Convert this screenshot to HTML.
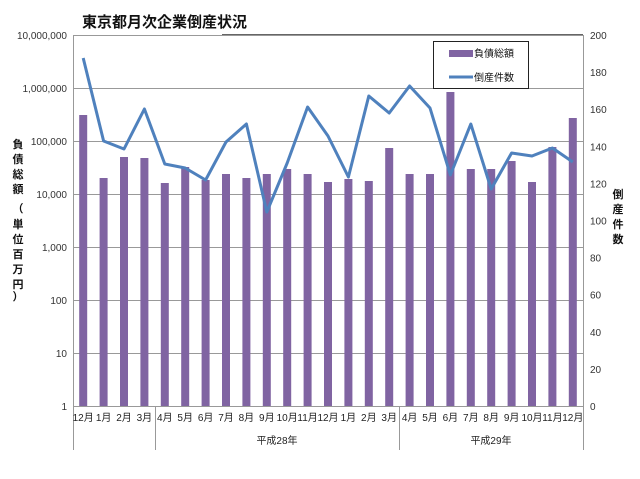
<!DOCTYPE html>
<html><head><meta charset="utf-8"><style>
body{margin:0;background:#fff;}
svg text{font-family:"Liberation Sans","Noto Sans CJK JP",sans-serif;}
</style></head><body>
<svg width="640" height="474" viewBox="0 0 640 474" xmlns="http://www.w3.org/2000/svg">
<rect width="640" height="474" fill="#fff"/>
<g stroke="#999" stroke-width="1">
<line x1="73" y1="35.5" x2="583" y2="35.5"/>
<line x1="73" y1="88.5" x2="583" y2="88.5"/>
<line x1="73" y1="141.5" x2="583" y2="141.5"/>
<line x1="73" y1="194.5" x2="583" y2="194.5"/>
<line x1="73" y1="247.5" x2="583" y2="247.5"/>
<line x1="73" y1="300.5" x2="583" y2="300.5"/>
<line x1="73" y1="353.5" x2="583" y2="353.5"/>
<line x1="73" y1="406.5" x2="583" y2="406.5"/>
<line x1="73.5" y1="35" x2="73.5" y2="450"/>
<line x1="583.5" y1="35" x2="583.5" y2="450"/>
<line x1="155.5" y1="406" x2="155.5" y2="450"/>
<line x1="399.5" y1="406" x2="399.5" y2="450"/>
</g>
<g fill="#8064a2" id="bars"></g>
<polyline id="ln" fill="none" stroke="#4f81bd" stroke-width="3" stroke-linejoin="round"/>
<g font-size="10" fill="#333" text-anchor="end">
<text x="67" y="39">10,000,000</text><text x="67" y="92">1,000,000</text><text x="67" y="145">100,000</text>
<text x="67" y="198">10,000</text><text x="67" y="251">1,000</text><text x="67" y="304">100</text>
<text x="67" y="357">10</text><text x="67" y="410">1</text>
</g>
<g font-size="10" fill="#333" id="rl"></g>
<g font-size="10" fill="#222" id="xl" text-anchor="middle"></g>
<text x="277" y="444" font-size="10" text-anchor="middle" fill="#222">平成28年</text>
<text x="491" y="444" font-size="10" text-anchor="middle" fill="#222">平成29年</text>
<text x="82" y="27" font-size="15" font-weight="bold" fill="#111">東京都月次企業倒産状況</text>
<line x1="222" y1="34.5" x2="583" y2="34.5" stroke="#666"/>
<g font-size="11" font-weight="bold" fill="#111" text-anchor="middle">
<text x="18" y="148">負</text><text x="18" y="163">債</text><text x="18" y="178">総</text><text x="18" y="193">額</text>
<text x="18" y="212">（</text><text x="18" y="228">単</text><text x="18" y="243">位</text><text x="18" y="258">百</text><text x="18" y="273">万</text><text x="18" y="288">円</text><text x="18" y="300">）</text>
<text x="618" y="198">倒</text><text x="618" y="213">産</text><text x="618" y="228">件</text><text x="618" y="243">数</text>
</g>
<rect x="433.5" y="41.5" width="95" height="47" fill="#fff" stroke="#222"/>
<rect x="449" y="50" width="24" height="7" fill="#8064a2"/>
<line x1="449" y1="77" x2="473" y2="77" stroke="#4f81bd" stroke-width="3"/>
<text x="474" y="57" font-size="10" fill="#111">負債総額</text>
<text x="474" y="81" font-size="10" fill="#111">倒産件数</text>
<script>
var bt=[115,178,157,158,183,167,180,174,178,174,169,174,182,179,181,148,174,174,92,169,169,161,182,147,118];
var ly=[58,141,149,109,164,168,180,142,124,212,163,107,136,177,96,113,86,108,175,124,189,153,156,148,162];
var lab=["12月","1月","2月","3月","4月","5月","6月","7月","8月","9月","10月","11月","12月","1月","2月","3月","4月","5月","6月","7月","8月","9月","10月","11月","12月"];
var w=20.4,ns="http://www.w3.org/2000/svg",b=document.getElementById("bars"),xl=document.getElementById("xl"),pts=[];
for(var i=0;i<25;i++){var c=73+w*(i+0.5);
var r=document.createElementNS(ns,"rect");r.setAttribute("x",c-4);r.setAttribute("y",bt[i]);r.setAttribute("width",8);r.setAttribute("height",406-bt[i]);b.appendChild(r);
pts.push(c+","+ly[i]);
var t=document.createElementNS(ns,"text");t.setAttribute("x",c);t.setAttribute("y",421);t.textContent=lab[i];xl.appendChild(t);}
document.getElementById("ln").setAttribute("points",pts.join(" "));
var rl=document.getElementById("rl");
for(var k=0;k<=10;k++){var t=document.createElementNS(ns,"text");t.setAttribute("x",590);t.setAttribute("y",406-k*37.1+4);t.textContent=k*20;rl.appendChild(t);}
</script>
</svg>
</body></html>
